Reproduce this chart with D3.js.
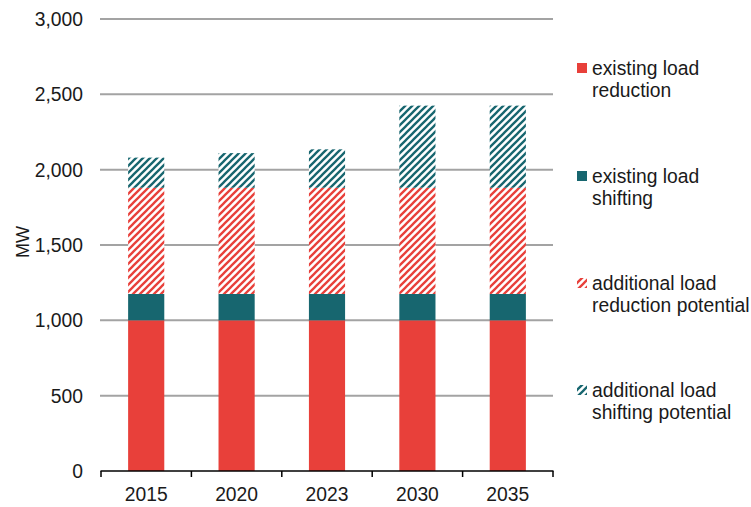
<!DOCTYPE html>
<html>
<head>
<meta charset="utf-8">
<script src="https://cdn.jsdelivr.net/npm/d3@7"></script>
<style>
  body { margin: 0; background: #fff; }
  text { font-family: "Liberation Sans", Arial, sans-serif; fill: #1a1a1a; }
</style>
</head>
<body>
<svg id="chart" width="751" height="507"></svg>
<script>
// chart data
const years = ["2015", "2020", "2023", "2030", "2035"];
const existing_reduction  = [1000, 1000, 1000, 1000, 1000];
const existing_shifting   = [175, 175, 175, 175, 175];
const additional_reduction = [705, 705, 705, 705, 705];
const additional_shifting  = [200, 230, 255, 545, 545];
const y_ticks = [0, 500, 1000, 1500, 2000, 2500, 3000];

const red = "#e8403a", teal = "#17666f";
const series = [
  {key: "er", label: ["existing load", "reduction"], values: existing_reduction, color: red, hatched: false},
  {key: "es", label: ["existing load", "shifting"], values: existing_shifting, color: teal, hatched: false},
  {key: "ar", label: ["additional load", "reduction potential"], values: additional_reduction, color: red, hatched: true},
  {key: "as", label: ["additional load", "shifting potential"], values: additional_shifting, color: teal, hatched: true}
];

const svg = d3.select("#chart");
const margin = {left: 101, right: 198, top: 19, bottom: 36};
const width = 751, height = 507;
const fs = 19.3;

const x = d3.scaleBand().domain(years).range([margin.left, width - margin.right]).paddingInner(0.6).paddingOuter(0.3);
const y = d3.scaleLinear().domain([0, 3000]).range([height - margin.bottom, margin.top]);

// hatch patterns, stripes going bottom-left to top-right
const defs = svg.append("defs");
function hatch(id, color){
  const s = 7;
  const p = defs.append("pattern").attr("id", id)
    .attr("patternUnits", "userSpaceOnUse").attr("width", s).attr("height", s);
  p.append("rect").attr("width", s).attr("height", s).attr("fill", "#fff");
  p.append("path").attr("d", `M0,${s} L${s},0 M-2,2 L2,-2 M${s-2},${s+2} L${s+2},${s-2}`)
    .attr("stroke", color).attr("stroke-width", 2.3);
}
hatch("hatch_red", red);
hatch("hatch_teal", teal);
function fill_of(s){ return s.hatched ? (s.color == red ? "url(#hatch_red)" : "url(#hatch_teal)") : s.color; }

// gridlines
svg.append("g").selectAll("line").data(y_ticks.filter(d => d > 0)).join("line")
  .attr("x1", margin.left - 1).attr("x2", width - margin.right)
  .attr("y1", d => y(d)).attr("y2", d => y(d))
  .attr("stroke", "#a3a3a3").attr("stroke-width", 2);

// stacked bars
const rows = years.map((yr, i) => {
  const r = {year: yr};
  series.forEach(s => r[s.key] = s.values[i]);
  return r;
});
const stacked = d3.stack().keys(series.map(s => s.key))(rows);
stacked.forEach((layer, li) => {
  svg.append("g").selectAll("rect").data(layer).join("rect")
    .attr("x", d => x(d.data.year))
    .attr("width", x.bandwidth())
    .attr("y", d => y(d[1]))
    .attr("height", d => y(d[0]) - y(d[1]))
    .attr("fill", fill_of(series[li]));
});

// x axis
const xAxis = svg.append("g").attr("transform", "translate(0," + y(0) + ")");
xAxis.append("line").attr("x1", margin.left - 0.5).attr("x2", width - margin.right + 0.5)
  .attr("stroke", "#000").attr("stroke-width", 1.5);
const bounds = years.map(yr => x(yr) - x.step() * x.paddingInner() / 2);
bounds.push(width - margin.right);
bounds[0] = margin.left;
xAxis.selectAll(".tk").data(bounds).join("line").attr("class", "tk")
  .attr("x1", d => d).attr("x2", d => d).attr("y1", 0).attr("y2", 6)
  .attr("stroke", "#000").attr("stroke-width", 1.5);
xAxis.selectAll("text").data(years).join("text")
  .attr("x", d => x(d) + x.bandwidth() / 2).attr("y", 30)
  .attr("text-anchor", "middle").attr("font-size", fs).text(d => d);

// y axis labels
svg.append("g").selectAll("text").data(y_ticks).join("text")
  .attr("x", 83).attr("y", d => y(d) + 7)
  .attr("text-anchor", "end").attr("font-size", fs)
  .text(d => d3.format(",")(d));

svg.append("text").attr("transform", "translate(29," + 242 + ") rotate(-90)")
  .attr("text-anchor", "middle").attr("font-size", 18).text("MW");

// legend
const legend = svg.append("g");
const legend_y = [68, 176, 283, 390];
series.forEach((s, i) => {
  const g = legend.append("g").attr("transform", "translate(577," + legend_y[i] + ")");
  g.append("rect").attr("x", 0).attr("y", -5).attr("width", 10).attr("height", 10).attr("fill", fill_of(s));
  g.append("text").attr("x", 15).attr("y", 7).attr("font-size", fs).text(s.label[0]);
  g.append("text").attr("x", 15).attr("y", 29).attr("font-size", fs).text(s.label[1]);
});
</script>
</body>
</html>
